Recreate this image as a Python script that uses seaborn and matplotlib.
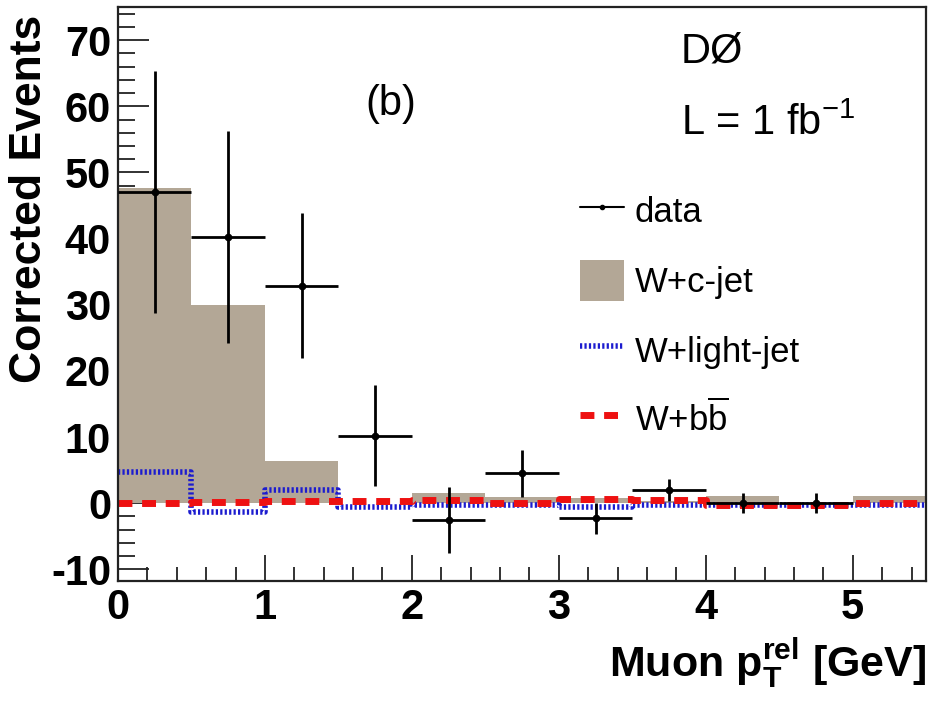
import numpy as np
import matplotlib
matplotlib.use("Agg")
import matplotlib.pyplot as plt
from matplotlib.lines import Line2D
from matplotlib.patches import Patch
from matplotlib.ticker import MultipleLocator
import seaborn as sns

# ---- data ----
bin_edges = [0.0, 0.5, 1.0, 1.5, 2.0, 2.5, 3.0, 3.5, 4.0, 4.5, 5.0, 5.5]
bin_centers = [0.25, 0.75, 1.25, 1.75, 2.25, 2.75, 3.25, 3.75, 4.25, 4.75, 5.25]
wc_jet = [47.7, 30.0, 6.4, 0.0, 1.5, 1.0, 0.8, 0.3, 1.1, 0.0, 1.1]
w_light = [4.7, -1.4, 2.0, -0.5, -0.3, -0.3, -0.5, -0.3, -0.3, -0.3, -0.3]
w_bb = [0.1, 0.2, 0.3, 0.3, 0.5, 0.0, 0.6, 0.5, -0.3, -0.3, 0.1]
data_x = [0.25, 0.75, 1.25, 1.75, 2.25, 2.75, 3.25, 3.75, 4.25, 4.75]
data_y = [47.0, 40.2, 32.9, 10.2, -2.6, 4.5, -2.3, 2.0, 0.0, 0.0]
data_err = [18.3, 16.0, 11.0, 7.6, 5.0, 3.5, 2.3, 1.6, 1.5, 1.5]
data_xerr = [0.25] * len(data_x)

sns.set_theme(style="white")
plt.rcParams['font.family'] = ['Liberation Sans', 'DejaVu Sans']
plt.rcParams['mathtext.fontset'] = 'custom'
plt.rcParams['mathtext.rm'] = 'Liberation Sans'
plt.rcParams['mathtext.it'] = 'Liberation Sans'
plt.rcParams['mathtext.bf'] = 'Liberation Sans:bold'
plt.rcParams['axes.unicode_minus'] = False
plt.rcParams['text.color'] = 'black'
plt.rcParams['axes.labelcolor'] = 'black'
plt.rcParams['xtick.color'] = 'black'
plt.rcParams['ytick.color'] = 'black'

fig = plt.figure(figsize=(9.29, 7.08), dpi=100)
ax = fig.add_axes([0.127, 0.179, 0.870, 0.811])

fill_col = '#b3a796'
blue = '#1c1ccf'
red = '#ee1111'
blue_ls = (0, (0.4, 0.4))
red_ls = (0, (2.0, 1.4))

sns.histplot(x=bin_centers, weights=wc_jet, bins=bin_edges, element='step',
             fill=True, color=fill_col, alpha=1.0, linewidth=0, ax=ax)
sns.histplot(x=bin_centers, weights=w_light, bins=bin_edges, element='step',
             fill=False, color=blue, linewidth=4, linestyle=blue_ls, ax=ax)
sns.histplot(x=bin_centers, weights=w_bb, bins=bin_edges, element='step',
             fill=False, color=red, linewidth=5, linestyle=red_ls, ax=ax)
ax.errorbar(data_x, data_y, yerr=data_err, xerr=data_xerr, fmt='o', color='black',
            markersize=4.5, elinewidth=2, capsize=0, zorder=5)

ax.set_xlim(0, 5.5)
ax.set_ylim(-11.8, 75)
ax.xaxis.set_major_locator(MultipleLocator(1))
ax.xaxis.set_minor_locator(MultipleLocator(0.2))
ax.yaxis.set_major_locator(MultipleLocator(10))
ax.yaxis.set_minor_locator(MultipleLocator(2))
ax.tick_params(axis='both', which='both', direction='in', top=False, right=False,
               bottom=True, left=True, width=1.3, color='#222222')
ax.tick_params(axis='y', which='major', length=22, labelsize=30, pad=5)
ax.tick_params(axis='y', which='minor', length=12)
ax.tick_params(axis='x', which='major', length=19, labelsize=30, pad=5)
ax.tick_params(axis='x', which='minor', length=10)
for lbl in ax.get_xticklabels() + ax.get_yticklabels():
    lbl.set_fontweight('bold')
for sp in ax.spines.values():
    sp.set_color('#222222')
    sp.set_linewidth(1.6)

ax.set_xlabel(r"Muon $\mathbf{p}_{\mathbf{T}}^{\mathbf{rel}}$ [GeV]", fontsize=31,
              fontweight='bold', loc='right', labelpad=6)
ax.set_ylabel("Corrected Events", fontsize=32, fontweight='bold', loc='top')
ax.yaxis.set_label_coords(-0.084, 0.986)

ax.text(0.696, 0.904, "DØ", transform=ax.transAxes, fontsize=30, va='baseline')
ax.text(0.696, 0.777, r"L = 1 fb$^{\mathregular{-1}}$", transform=ax.transAxes,
        fontsize=30, va='baseline')
ax.text(0.306, 0.812, "(b)", transform=ax.transAxes, fontsize=30, va='baseline')

handles = [
    Line2D([0], [0], color='black', lw=1.5, marker='o', markersize=3),
    Patch(facecolor=fill_col, edgecolor='none'),
    Line2D([0], [0], color=blue, lw=4, linestyle=blue_ls),
    Line2D([0], [0], color=red, lw=5, linestyle=red_ls),
]
labels = ["data", "W+c-jet", "W+light-jet", r"W+b$\overline{\mathregular{b}}$"]
leg = ax.legend(handles, labels, loc='upper left', bbox_to_anchor=(0.572, 0.68),
                frameon=False, fontsize=25, labelspacing=0.85, handlelength=1.27,
                handleheight=1.4, handletextpad=0.3, borderaxespad=0, borderpad=0)

fig.savefig("out.png", dpi=100)
